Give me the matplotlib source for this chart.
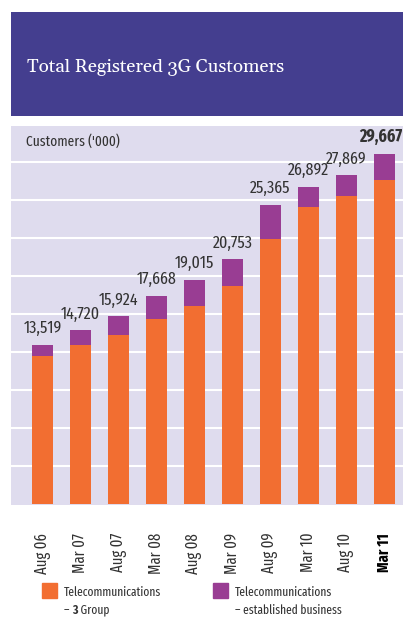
import numpy as np
import matplotlib
matplotlib.use('Agg')
import matplotlib.pyplot as plt

periods = ['Aug 06', 'Mar 07', 'Aug 07', 'Mar 08', 'Aug 08',
           'Mar 09', 'Aug 09', 'Mar 10', 'Aug 10', 'Mar 11']
totals = [13519, 14720, 15924, 17668, 19015, 20753, 25365, 26892, 27869, 29667]
group3 = [12590, 13444, 14306, 15724, 16808, 18457, 22500, 25195, 26154, 27431]
established = [t - g for t, g in zip(totals, group3)]

orange = '#f26e31'
purple = '#993d93'
panel = '#dfdcee'
header = '#443e8f'
txt = '#333333'

plt.rcParams['font.family'] = ['Fira Sans Extra Condensed', 'DejaVu Sans']

fig = plt.figure(figsize=(4.03, 6.17), dpi=100)

# header box
hd = fig.add_axes([11/403, 1 - 116/617, 392/403, 104/617])
hd.set_facecolor(header)
hd.set_xticks([]); hd.set_yticks([])
for s in hd.spines.values():
    s.set_visible(False)
hd.text(16/392, 0.47, 'Total Registered 3G Customers', color='white',
        fontsize=13.5, family='Gelasio', va='center', ha='left',
        transform=hd.transAxes)

ax = fig.add_axes([11/403, 1 - 505/617, 392/403, 379/617])
ax.set_facecolor(panel)
x = np.arange(len(periods))
w = 0.55
ax.bar(x, group3, w, color=orange, zorder=3)
ax.bar(x, established, w, bottom=group3, color=purple, zorder=3)

ax.set_yticks(np.arange(3220, 31000, 3220))
ax.yaxis.grid(True, color='white', linewidth=1.5, zorder=0)
ax.tick_params(axis='y', length=0, labelleft=False)
ax.set_xlim(-0.83, 9.49)
ax.set_ylim(-80, 32050)
for s in ax.spines.values():
    s.set_visible(False)

for i, t in enumerate(totals):
    last = i == len(totals) - 1
    ax.annotate(f'{t:,}', (x[i], t), xytext=(-2.5 if last else 0, 6),
                textcoords='offset points', ha='center', va='bottom',
                fontsize=12.5, color=txt,
                fontweight='bold' if last else 'normal', clip_on=False)

ax.set_xticks(x)
ax.set_xticklabels(periods, rotation=90, fontsize=11.5, color=txt)
ax.tick_params(axis='x', length=0, pad=20)
ax.get_xticklabels()[-1].set_fontweight('bold')
ax.get_xticklabels()[-1].set_color('black')

ax.text(15/392, 1 - 15/379, "Customers ('000)", transform=ax.transAxes,
        fontsize=10.5, color=txt, va='center', ha='left')

# legend
fig.patches.append(plt.Rectangle((42/403, 1 - 598/617), 15/403, 15/617,
                                 transform=fig.transFigure, color=orange))
fig.patches.append(plt.Rectangle((213/403, 1 - 598/617), 15/403, 15/617,
                                 transform=fig.transFigure, color=purple))
lk = dict(fontsize=9, color=txt, va='center')
fig.text(64/403, 1 - 592/617, 'Telecommunications', **lk)
t1 = fig.text(64/403, 1 - 610/617, '– ', **lk)
fig.canvas.draw()
r = fig.canvas.get_renderer()
bb = t1.get_window_extent(r)
t2 = fig.text(bb.x1 / fig.bbox.width, 1 - 610/617, '3', fontsize=9, color=txt,
              fontweight='bold', va='center')
fig.canvas.draw()
bb2 = t2.get_window_extent(r)
fig.text(bb2.x1 / fig.bbox.width, 1 - 610/617, ' Group', **lk)
fig.text(235/403, 1 - 592/617, 'Telecommunications', **lk)
fig.text(235/403, 1 - 610/617, '– established business', **lk)

fig.savefig('out.png', dpi=100, facecolor='white')
